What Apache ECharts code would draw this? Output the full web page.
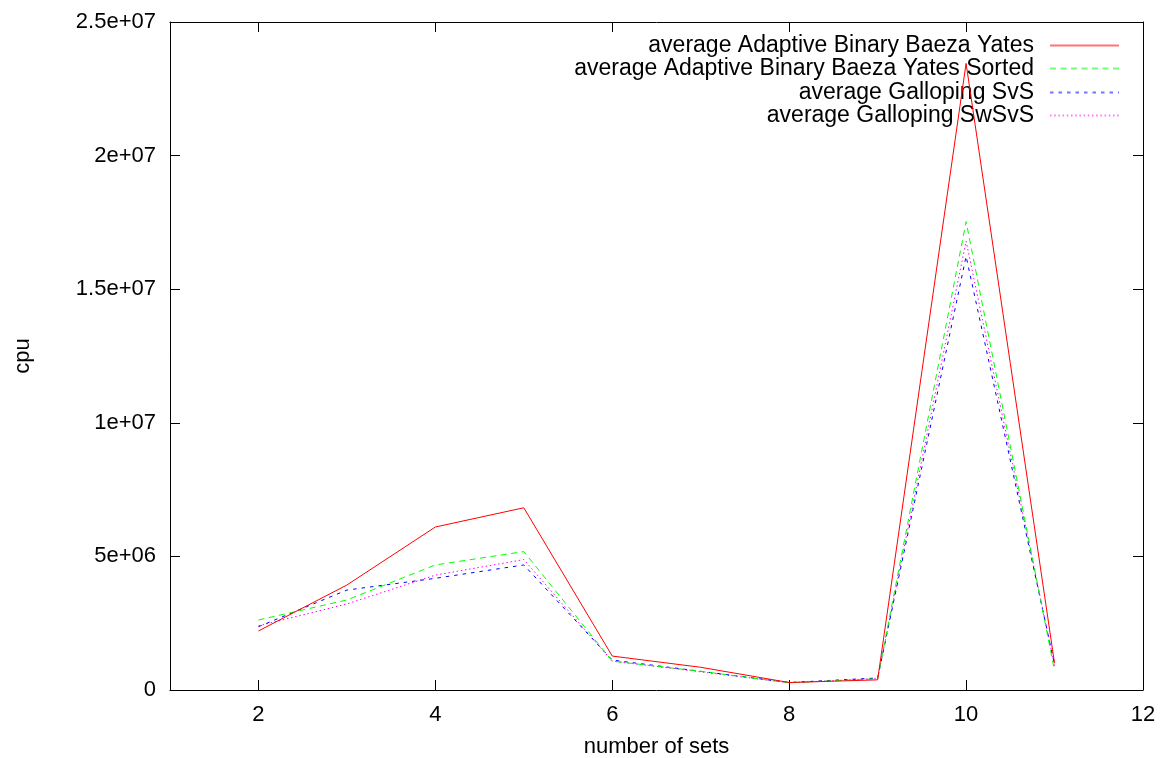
<!DOCTYPE html>
<html>
<head>
<meta charset="utf-8">
<script src="https://cdn.jsdelivr.net/npm/echarts@6/dist/echarts.min.js"></script>
<style>html,body{margin:0;padding:0;background:#fff}#c{width:1165px;height:758px}</style>
</head>
<body>
<div id="c"></div>
<script>
const xValues = [2, 3, 4, 5, 6, 7, 8, 9, 10, 11];
const seriesNames = [
  "average Adaptive Binary Baeza Yates",
  "average Adaptive Binary Baeza Yates Sorted",
  "average Galloping SvS",
  "average Galloping SwSvS"
];
const abby = [2.21e6, 3.93e6, 6.10e6, 6.82e6, 1.27e6, 0.85e6, 0.28e6, 0.38e6, 23.45e6, 1.0e6];
const abbySorted = [2.62e6, 3.37e6, 4.68e6, 5.18e6, 1.08e6, 0.70e6, 0.27e6, 0.42e6, 17.53e6, 0.72e6];
const gallopSvS = [2.37e6, 3.74e6, 4.18e6, 4.68e6, 1.12e6, 0.70e6, 0.28e6, 0.45e6, 16.23e6, 0.95e6];
const gallopSwSvS = [2.40e6, 3.22e6, 4.30e6, 4.88e6, 1.08e6, 0.68e6, 0.27e6, 0.43e6, 16.80e6, 0.90e6];
const xTicks = [2, 4, 6, 8, 10, 12];
const yTickValues = [0, 5e6, 1e7, 1.5e7, 2e7, 2.5e7];
const yTickLabels = ["0", "5e+06", "1e+07", "1.5e+07", "2e+07", "2.5e+07"];

const colors = ["#ff0000", "#00ff00", "#0000ff", "#ff00ff"];
const dashes = ["solid", [6, 4.5], [3.5, 5], [1.5, 2.7]];
const allData = [abby, abbySorted, gallopSvS, gallopSwSvS];
const FONT = "Liberation Sans";

const chart = echarts.init(document.getElementById('c'), null, {renderer: 'canvas'});
const axisLineStyle = {color: '#000', width: 1};
const legendTops = [29, 52, 76, 99];

const option = {
  animation: false,
  backgroundColor: '#fff',
  textStyle: {fontFamily: FONT},
  grid: {left: 170, right: 22, top: 22, bottom: 68, containLabel: false, outerBoundsMode: 'none'},
  legend: seriesNames.map((n, i) => ({
    data: [n],
    right: 40,
    top: legendTops[i],
    align: 'right',
    itemWidth: 69,
    itemHeight: 14,
    itemStyle: {opacity: 0},
    lineStyle: {width: 2, opacity: 0.55},
    textStyle: {fontFamily: FONT, fontSize: 23, color: '#000', padding: [0, 11, 0, 0]},
    selectedMode: false
  })),
  xAxis: [{
    type: 'value', min: 1, max: 12, position: 'bottom',
    name: 'number of sets', nameLocation: 'middle', nameGap: 46,
    nameTextStyle: {fontFamily: FONT, fontSize: 22, color: '#000'},
    axisLine: {show: true, onZero: false, lineStyle: axisLineStyle},
    axisTick: {show: true, inside: true, length: 10, customValues: xTicks, lineStyle: axisLineStyle},
    axisLabel: {customValues: xTicks, fontFamily: FONT, fontSize: 22, color: '#000', margin: 14},
    splitLine: {show: false}
  }, {
    type: 'value', min: 1, max: 12, position: 'top',
    axisLine: {show: true, onZero: false, lineStyle: axisLineStyle},
    axisTick: {show: true, inside: true, length: 10, customValues: xTicks, lineStyle: axisLineStyle},
    axisLabel: {show: false},
    splitLine: {show: false}
  }],
  yAxis: [{
    type: 'value', min: 0, max: 2.5e7, interval: 5e6, position: 'left',
    name: 'cpu', nameLocation: 'middle', nameGap: 136,
    nameTextStyle: {fontFamily: FONT, fontSize: 22, color: '#000'},
    axisLine: {show: true, onZero: false, lineStyle: axisLineStyle},
    axisTick: {show: true, inside: true, length: 10, lineStyle: axisLineStyle},
    axisLabel: {
      fontFamily: FONT, fontSize: 22, color: '#000', margin: 14,
      formatter: v => { const i = yTickValues.indexOf(v); return i >= 0 ? yTickLabels[i] : ''; }
    },
    splitLine: {show: false}
  }, {
    type: 'value', min: 0, max: 2.5e7, interval: 5e6, position: 'right',
    axisLine: {show: true, onZero: false, lineStyle: axisLineStyle},
    axisTick: {show: true, inside: true, length: 10, lineStyle: axisLineStyle},
    axisLabel: {show: false},
    splitLine: {show: false}
  }],
  series: seriesNames.map((n, i) => ({
    name: n,
    type: 'line',
    xAxisIndex: 0,
    yAxisIndex: 0,
    symbol: 'none',
    color: colors[i],
    lineStyle: {color: colors[i], width: 1, type: dashes[i]},
    data: xValues.map((x, j) => [x, allData[i][j]]),
    z: 10 - i
  }))
};
chart.setOption(option);
</script>
</body>
</html>
